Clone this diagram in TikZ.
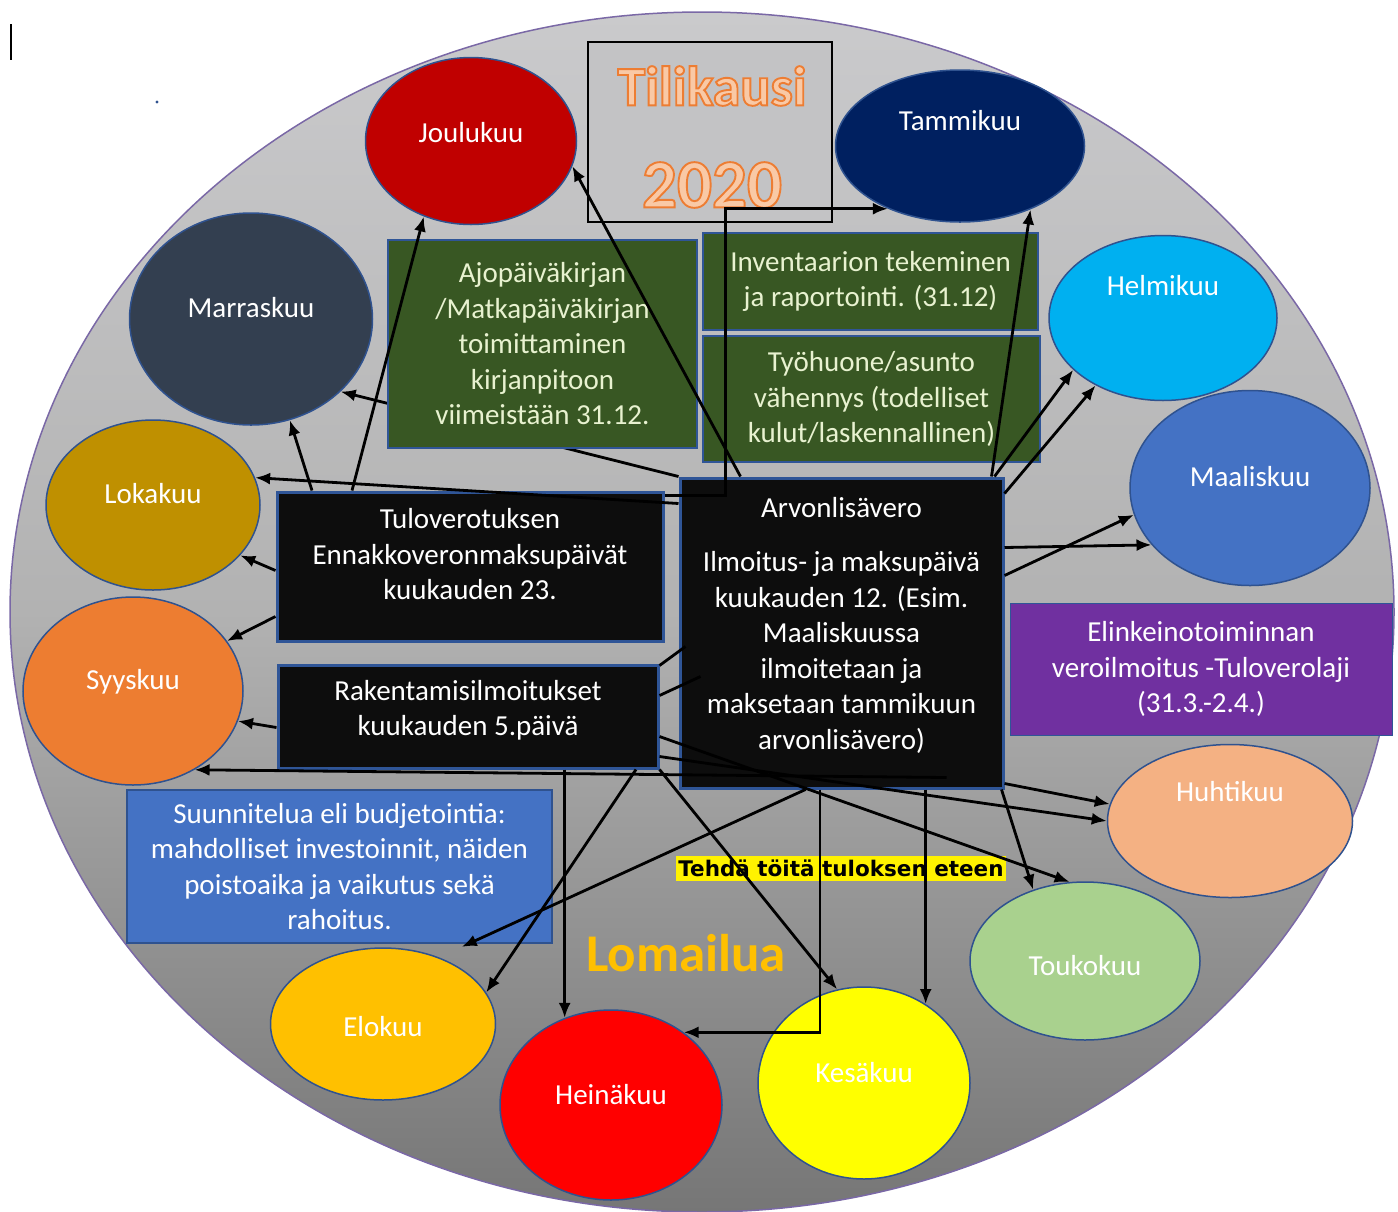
\documentclass[tikz,border=0pt]{standalone}
\usepackage{fontspec}
\setmainfont{Carlito}
\newfontfamily\boldsans{DejaVu Sans}
\usetikzlibrary{arrows.meta,shapes.geometric}

\definecolor{ringtop}{HTML}{CACACC}
\definecolor{ringmid}{HTML}{B2B2B2}
\definecolor{ringbot}{HTML}{767676}
\definecolor{ringline}{HTML}{7A68A6}
\definecolor{edgeblue}{HTML}{2F528F}
\definecolor{boxedge}{HTML}{2F5597}
\definecolor{leafgreen}{HTML}{385723}
\definecolor{paletext}{HTML}{E8F2D0}
\definecolor{nearblack}{HTML}{0D0D0D}
\definecolor{taxpurple}{HTML}{7030A0}
\definecolor{planblue}{HTML}{4472C4}
\definecolor{titlegray}{HTML}{C3C3C5}
\definecolor{titlefill}{HTML}{F9C9A6}
\definecolor{holiday}{HTML}{FFC000}
\definecolor{cjan}{HTML}{002060}
\definecolor{cfeb}{HTML}{00B0F0}
\definecolor{cmar}{HTML}{4472C4}
\definecolor{capr}{HTML}{F4B183}
\definecolor{cmay}{HTML}{A9D18E}
\definecolor{cjun}{HTML}{FFFF00}
\definecolor{cjul}{HTML}{FF0000}
\definecolor{caug}{HTML}{FFC000}
\definecolor{csep}{HTML}{ED7D31}
\definecolor{coct}{HTML}{BF9000}
\definecolor{cnov}{HTML}{333F50}
\definecolor{cdec}{HTML}{C00000}

% orange outline round the title letters
\newcommand\outlinetext[1]{\special{pdf:literal direct 2 Tr 1.9 w 0.93 0.49 0.2 RG}#1\special{pdf:literal direct 0 Tr}}

\begin{document}
\begin{tikzpicture}[x=1pt,y=-1pt,
    month/.style={ellipse, draw=edgeblue, line width=1.5pt, inner sep=0pt},
    mtext/.style={text=white, font=\fontsize{29}{35.5}\selectfont},
    box/.style={rectangle, inner sep=0pt, align=center, font=\fontsize{29}{35.5}\selectfont},
    btext/.style={align=center, text=white, font=\fontsize{29}{35.5}\selectfont},
    greenbox/.style={box, fill=leafgreen, draw=boxedge, line width=2.5pt, text=paletext},
    blackbox/.style={box, fill=nearblack, draw=boxedge, line width=3pt, text=white},
    titletext/.style={font=\fontsize{56}{60}\selectfont\bfseries},
    yeartext/.style={font=\fontsize{69}{72}\selectfont\bfseries},
    conn/.style={-{Latex[length=15pt,width=12pt]}, line width=2.8pt}]
  \useasboundingbox (0,0) rectangle (1398,1211);
  \draw[draw=ringline, line width=1.5pt, top color=ringtop, bottom color=ringbot, middle color=ringmid]
    (702,612) ellipse [x radius=692, y radius=600];
  \draw[line width=1.3pt] (11,24) -- (11,60);
  \fill[edgeblue] (157,102) circle [radius=1.6pt];

  % months round the year
  \node[month, fill=cdec, minimum width=211pt, minimum height=167pt, label={[mtext,yshift=8pt]center:Joulukuu}] (jou) at (471,141) {};
  \node[month, fill=cjan, minimum width=249pt, minimum height=152pt, label={[mtext,yshift=25pt]center:Tammikuu}] (tam) at (960,146) {};
  \node[month, fill=cnov, minimum width=243pt, minimum height=212pt, label={[mtext,yshift=11pt]center:Marraskuu}] (mar) at (251,319) {};
  \node[month, fill=cfeb, minimum width=228pt, minimum height=165pt, label={[mtext,yshift=32pt]center:Helmikuu}] (hel) at (1163,318) {};
  \node[month, fill=coct, minimum width=214pt, minimum height=170pt, label={[mtext,yshift=11pt]center:Lokakuu}] (lok) at (153,505) {};
  \node[month, fill=cmar, minimum width=240pt, minimum height=195pt, label={[mtext,yshift=11pt]center:Maaliskuu}] (maa) at (1250,488) {};
  \node[month, fill=csep, minimum width=220pt, minimum height=188pt, label={[mtext,yshift=9pt]center:Syyskuu}] (syy) at (133,691) {};
  \node[month, fill=capr, minimum width=245pt, minimum height=153pt, label={[mtext,yshift=29pt]center:Huhtikuu}] (huh) at (1230,821) {};
  \node[month, fill=cmay, minimum width=230pt, minimum height=158pt, label={[mtext,yshift=-5pt]center:Toukokuu}] (tou) at (1085,961) {};
  \node[month, fill=cjun, minimum width=212pt, minimum height=192pt, label={[mtext,yshift=10pt]center:Kesäkuu}] (kes) at (864,1083) {};
  \node[month, fill=cjul, minimum width=222pt, minimum height=190pt, label={[mtext,yshift=10pt]center:Heinäkuu}] (hei) at (611,1105) {};
  \node[month, fill=caug, minimum width=225pt, minimum height=152pt, label={[mtext,yshift=-3pt]center:Elokuu}] (elo) at (383,1024) {};

  % title
  \node[draw=black, line width=2.5pt, fill=titlegray, minimum width=244pt, minimum height=180pt] (tili) at (710,132) {};
  \node[titletext, text=titlefill] (tiliName) at (712,86) {\outlinetext{Tilikausi}};
  \node[yeartext, text=titlefill] (yearName) at (712,185) {\outlinetext{2020}};

  % tasks
  \node[blackbox, minimum width=323pt, minimum height=310pt,
    label={[btext,yshift=8pt]center:{Arvonlisävero\\[19pt]Ilmoitus- ja maksupäivä\\kuukauden 12. (Esim.\\Maaliskuussa\\ilmoitetaan ja\\maksetaan tammikuun\\arvonlisävero)}}] (arvo) at (841.5,633) {};
  \node[blackbox, minimum width=386pt, minimum height=149pt,
    label={[btext,yshift=12pt]center:{Tuloverotuksen\\Ennakkoveronmaksupäivät\\kuukauden 23.}}] (tulo) at (470,566.5) {};
  \node[blackbox, minimum width=380pt, minimum height=103pt,
    label={[btext,yshift=6pt]center:{Rakentamisilmoitukset\\kuukauden 5.päivä}}] (rak) at (468,716.5) {};
  \node[greenbox, minimum width=335pt, minimum height=97pt] (inv) at (870.5,281.5)
    {Inventaarion tekeminen\\ja raportointi. (31.12)};
  \node[greenbox, minimum width=337pt, minimum height=126pt] (tyo) at (871.5,399)
    {Työhuone/asunto\\vähennys (todelliset\\kulut/laskennallinen)};
  \node[box, fill=taxpurple, draw=boxedge, line width=1pt, text=white, minimum width=382pt, minimum height=132pt] (elin) at (1201,669)
    {Elinkeinotoiminnan\\veroilmoitus -Tuloverolaji\\(31.3.-2.4.)};
  \node[box, fill=planblue, draw=edgeblue, line width=2pt, text=white, minimum width=425pt, minimum height=153pt] (suun) at (339.5,866.5)
    {Suunnitelua eli budjetointia:\\mahdolliset investoinnit, näiden\\poistoaika ja vaikutus sekä\\rahoitus.};

  % this one runs under the driving-log box
  \draw[conn] (arvo.north west) -- (mar.-39);
  \node[greenbox, minimum width=309pt, minimum height=208pt] (ajo) at (542.5,344)
    {Ajopäiväkirjan\\/Matkapäiväkirjan\\toimittaminen\\kirjanpitoon\\viimeistään 31.12.};

  \node[fill=yellow, inner xsep=2pt, inner ysep=0pt, minimum height=25pt, font=\boldsans\bfseries\fontsize{21.5}{25}\selectfont] (work) at (841,868) {Tehdä töitä tuloksen eteen};
  \node[font=\fontsize{53}{60}\selectfont\bfseries, text=holiday] (loma) at (686,953) {Lomailua};

  \draw[conn] ([xshift=-118pt]tulo.north) -- (jou.-122);
  \draw[conn] ([xshift=-158pt]tulo.north) -- (mar.-69);
  \draw[conn] ([yshift=-27pt]arvo.north west) -- (lok.15);
  \draw[conn] ([yshift=-5pt]tulo.north east) -- ++(61,0) |- (tam.221);
  \draw[conn] ([xshift=-101pt]arvo.north) -- (jou.-14);
  \draw[conn] ([xshift=-13pt]arvo.north east) -- (tam.-42);
  \draw[conn] ([xshift=-10pt]arvo.north east) -- (hel.210);
  \draw[conn] ([yshift=-17pt]arvo.north east) -- (hel.225);
  \draw[conn] ([yshift=-71pt]arvo.north east) -- (maa.210);
  \draw[conn] ([yshift=-99pt]arvo.north east) -- (maa.193);
  \draw[conn] ([yshift=-4pt]tulo.west) -- (lok.-30);
  \draw[conn] ([yshift=-50pt]tulo.west) -- (syy.28);
  \draw[conn] ([yshift=-11pt]rak.west) -- (syy.-16);
  \draw[conn] ([shift={(-58pt,12pt)}]arvo.south east) -- (syy.-52);
  \draw[conn] (rak.south -| hei.118) -- (hei.118);
  \draw[conn] ([xshift=168pt]rak.south) -- (elo.17);
  \draw[conn, shorten >=25pt] ([xshift=-36pt]arvo.south) -- (elo.50);
  \draw[conn] (rak.south east) -- (kes.106);
  \draw[conn] ([xshift=-21.5pt]arvo.south) |- (hei.45);
  \draw[conn] (arvo.south -| kes.52) -- (kes.52);
  \draw[conn] ([xshift=-3pt]arvo.south east) -- (tou.126);
  \draw[conn] ([yshift=-20pt]rak.east) -- (tou.101);
  \draw[conn] ([yshift=-40pt]rak.east) -- (huh.180);
  \draw[conn] ([yshift=6pt]arvo.south east) -- (huh.172);
  \draw[line width=2.8pt] ([yshift=-2pt]rak.north east) -- ([shift={(7pt,-170pt)}]arvo.north west);
  \draw[line width=2.8pt] ([yshift=-32pt]rak.north east) -- ([shift={(22pt,-200pt)}]arvo.north west);
\end{tikzpicture}
\end{document}
